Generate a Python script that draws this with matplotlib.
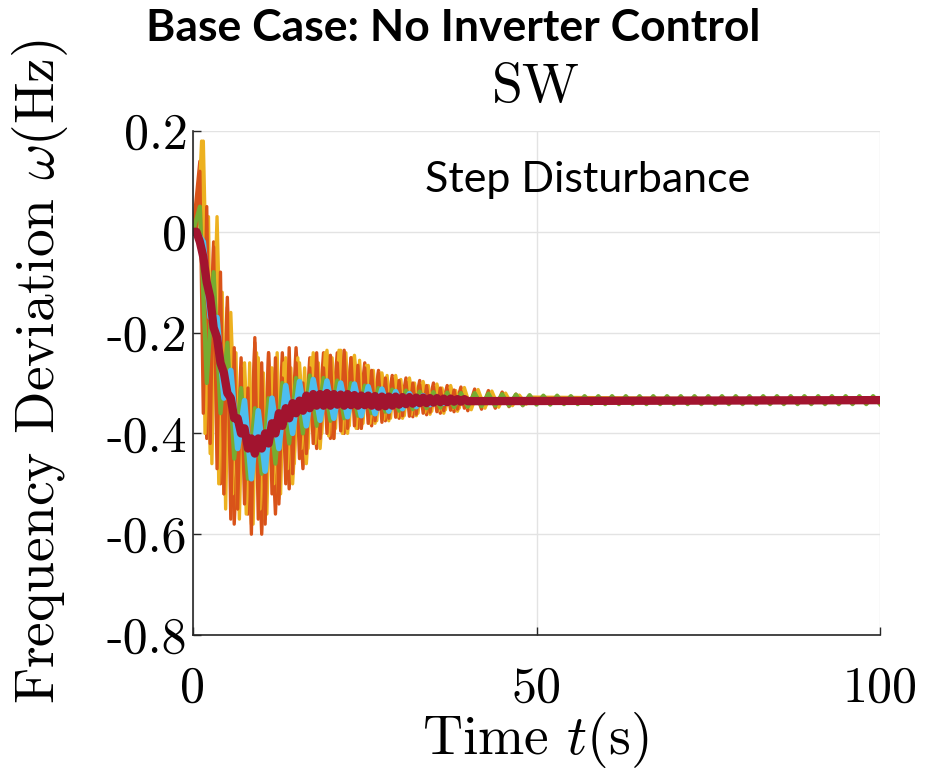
import numpy as np
import matplotlib
matplotlib.use('Agg')
import matplotlib.pyplot as plt

plt.rcParams['mathtext.fontset'] = 'cm'
plt.rcParams['axes.unicode_minus'] = False

# 数据：各节点频率偏差 (Hz)，读自原图
# 橙色 A：t = 0, 0.5, ..., 40 s
orange_a = [0.0, 0.0, 0.12, -0.36, 0.05, -0.42, -0.03, -0.47, -0.08, -0.52,
            -0.15, -0.57, -0.23, -0.55, -0.27, -0.54, -0.31, -0.60, -0.21, -0.57,
            -0.26, -0.58, -0.24, -0.52, -0.25, -0.54, -0.29, -0.50, -0.23, -0.48,
            -0.26, -0.45, -0.30, -0.44, -0.27, -0.42, -0.24, -0.41, -0.27, -0.40,
            -0.245, -0.41, -0.26, -0.395, -0.235, -0.39, -0.25, -0.385, -0.265, -0.39,
            -0.27, -0.38, -0.275, -0.375, -0.28, -0.378, -0.29, -0.37, -0.29, -0.368,
            -0.295, -0.365, -0.297, -0.366, -0.30, -0.362, -0.303, -0.36, -0.305, -0.358,
            -0.307, -0.357, -0.31, -0.355, -0.312, -0.354, -0.314, -0.352, -0.316, -0.35,
            -0.334]
# 黄色 A：t = 0, 0.75, 1.25, ..., 39.75 s
yellow_a = [0.0, 0.02, 0.18, -0.40, 0.03, -0.46, -0.05, -0.50, -0.12, -0.55,
            -0.18, -0.52, -0.24, -0.57, -0.29, -0.56, -0.26, -0.58, -0.24, -0.55,
            -0.28, -0.56, -0.27, -0.50, -0.24, -0.52, -0.26, -0.47, -0.27, -0.46,
            -0.25, -0.43, -0.27, -0.43, -0.25, -0.42, -0.26, -0.40, -0.24, -0.405,
            -0.25, -0.39, -0.235, -0.40, -0.24, -0.385, -0.25, -0.39, -0.255, -0.38,
            -0.265, -0.38, -0.275, -0.375, -0.28, -0.372, -0.285, -0.37, -0.29, -0.367,
            -0.293, -0.365, -0.296, -0.363, -0.30, -0.36, -0.302, -0.358, -0.305, -0.356,
            -0.308, -0.355, -0.31, -0.353, -0.313, -0.351, -0.315, -0.35, -0.317, -0.348]
# 橙色 B：t = 0, 1, ..., 50 s
orange_b = [0.00, 0.14, -0.41, -0.02, -0.50, -0.13, -0.58, -0.25, -0.56, -0.22,
            -0.60, -0.24, -0.56, -0.24, -0.51, -0.23, -0.47, -0.25, -0.43, -0.24,
            -0.41, -0.24, -0.40, -0.25, -0.39, -0.26, -0.385, -0.275, -0.375, -0.285,
            -0.37, -0.29, -0.367, -0.295, -0.363, -0.30, -0.36, -0.305, -0.357, -0.308,
            -0.355, -0.312, -0.352, -0.315, -0.35, -0.318, -0.347, -0.322, -0.345, -0.325,
            -0.34]
# 黄色 B：t = 0, 0.5, 1.5, ..., 49.5 s
yellow_b = [0.00, 0.00, 0.18, -0.44, 0.03, -0.52, -0.16, -0.55, -0.26, -0.58,
            -0.25, -0.57, -0.27, -0.53, -0.25, -0.50, -0.26, -0.46, -0.24, -0.43,
            -0.235, -0.41, -0.235, -0.40, -0.245, -0.39, -0.265, -0.38, -0.28, -0.375,
            -0.285, -0.37, -0.29, -0.365, -0.297, -0.362, -0.302, -0.36, -0.305, -0.356,
            -0.309, -0.353, -0.313, -0.35, -0.316, -0.348, -0.32, -0.345, -0.324, -0.342,
            -0.328]
# 绿色：t = 0, 1, ..., 100 s
green = [0.00, 0.05, -0.30, -0.08, -0.36, -0.22, -0.45, -0.31, -0.49, -0.35,
         -0.48, -0.33, -0.46, -0.30, -0.42, -0.29, -0.40, -0.285, -0.385, -0.29,
         -0.375, -0.295, -0.37, -0.30, -0.365, -0.305, -0.36, -0.31, -0.357, -0.313,
         -0.355, -0.315, -0.352, -0.317, -0.35, -0.318, -0.349, -0.319, -0.348, -0.32,
         -0.347, -0.32, -0.346, -0.321, -0.345, -0.322, -0.345, -0.323, -0.344, -0.324,
         -0.343, -0.325, -0.343, -0.325, -0.342, -0.326, -0.342, -0.326, -0.342, -0.326,
         -0.342, -0.326, -0.342, -0.326, -0.342, -0.326, -0.342, -0.326, -0.342, -0.326,
         -0.342, -0.326, -0.342, -0.326, -0.342, -0.326, -0.342, -0.326, -0.342, -0.326,
         -0.342, -0.326, -0.342, -0.326, -0.342, -0.326, -0.342, -0.326, -0.342, -0.326,
         -0.342, -0.326, -0.342, -0.326, -0.342, -0.326, -0.342, -0.326, -0.342, -0.326,
         -0.342]
# 浅蓝：t = 0, 0.5, 1.5, ..., 39.5 s
blue = [0.0, 0.0, -0.02, -0.17, -0.17, -0.33, -0.275, -0.43, -0.335, -0.49,
        -0.355, -0.475, -0.33, -0.43, -0.305, -0.40, -0.297, -0.385, -0.293, -0.374,
        -0.296, -0.37, -0.30, -0.367, -0.302, -0.365, -0.307, -0.361, -0.312, -0.356,
        -0.317, -0.351, -0.321, -0.347, -0.325, -0.343, -0.328, -0.34, -0.331, -0.337,
        -0.334]
# 暗红：t = 0, 0.5, ..., 40 s
darkred = [0.0, 0.0, -0.02, -0.05, -0.10, -0.13, -0.19, -0.21, -0.26, -0.28,
           -0.32, -0.33, -0.37, -0.37, -0.40, -0.39, -0.43, -0.41, -0.44, -0.41,
           -0.43, -0.40, -0.42, -0.38, -0.40, -0.36, -0.385, -0.35, -0.37, -0.34,
           -0.36, -0.335, -0.355, -0.325, -0.35, -0.322, -0.345, -0.322, -0.345, -0.32,
           -0.345, -0.322, -0.343, -0.323, -0.345, -0.322, -0.344, -0.324, -0.345, -0.325,
           -0.344, -0.325, -0.345, -0.326, -0.347, -0.327, -0.346, -0.327, -0.345, -0.327,
           -0.343, -0.328, -0.342, -0.328, -0.341, -0.329, -0.34, -0.329, -0.34, -0.33,
           -0.339, -0.33, -0.338, -0.331, -0.338, -0.331, -0.337, -0.332, -0.337, -0.332,
           -0.336]
steady = -0.334

t_orange_a = 0.5 * np.arange(len(orange_a))
t_yellow_a = np.concatenate([[0.0], 0.75 + 0.5 * np.arange(len(yellow_a) - 1)])
t_orange_b = np.arange(len(orange_b), dtype=float)
t_yellow_b = np.concatenate([[0.0], 0.5 + np.arange(len(yellow_b) - 1)])
t_green = np.arange(len(green), dtype=float)
t_blue = np.concatenate([[0.0], 0.5 + np.arange(len(blue) - 1)])
t_red = 0.5 * np.arange(len(darkred))

yticks = [-0.8, -0.6, -0.4, -0.2, 0, 0.2]
ytick_labels = ['-0.8', '-0.6', '-0.4', '-0.2', '0', '0.2']
xticks = [0, 50, 100]

C_ORANGE = '#D95319'
C_YELLOW = '#EDB120'

fig = plt.figure(figsize=(9.25, 7.75), dpi=100)
ax = fig.add_axes([193 / 925, 1 - 635 / 775, 687 / 925, 504 / 775])

ax.plot(np.append(t_orange_b, 100), orange_b + [steady], color=C_ORANGE, lw=2.4)
ax.plot(np.append(t_yellow_b, 100), yellow_b + [steady], color=C_YELLOW, lw=2.4)
ax.plot(np.append(t_yellow_a, [40.5, 100]), yellow_a + [steady, steady], color=C_YELLOW, lw=2.4)
ax.plot(np.append(t_orange_a, 100), orange_a + [steady], color=C_ORANGE, lw=2.4)
ax.plot(t_green, green, color='#77AC30', lw=3.0)
ax.plot(np.append(t_blue, 100), blue + [steady], color='#4DBEEE', lw=4.0)
ax.plot(np.append(t_red, 100), darkred + [steady], color='#A2142F', lw=6.0)

ax.set_xlim(0, 100)
ax.set_ylim(-0.8, 0.2)
ax.set_xticks(xticks)
ax.set_xticklabels([str(v) for v in xticks], fontfamily='cmr10', fontsize=36)
ax.set_yticks(yticks)
ax.set_yticklabels(ytick_labels, fontfamily='cmr10', fontsize=36)
ax.tick_params(direction='in', length=6, width=1, color='#262626')
ax.tick_params(axis='x', pad=22)
ax.tick_params(axis='y', pad=4)
ax.grid(True, color='#e3e3e3', lw=1)
ax.set_axisbelow(True)
for s in ['top', 'right']:
    ax.spines[s].set_visible(False)
for s in ['left', 'bottom']:
    ax.spines[s].set_color('#262626')
    ax.spines[s].set_linewidth(1.2)

ax.text(57.5, 0.103, 'Step Disturbance', fontfamily='Lato', fontsize=31,
        ha='center', va='center')

fig.text(453 / 925, 1 - 28 / 775, 'Base Case: No Inverter Control',
         fontfamily='Lato', fontweight='bold', fontsize=32, ha='center', va='center')
fig.text(536 / 925, 1 - 88 / 775, 'SW', fontfamily='cmr10', fontsize=40,
         ha='center', va='center')
fig.text(535 / 925, 1 - 740 / 775, r'Time $t$(s)', fontfamily='cmr10', fontsize=40,
         ha='center', va='center')
fig.text(40 / 925, 1 - 372 / 775, r'Frequency Deviation $\omega$(Hz)', fontfamily='cmr10',
         fontsize=40, rotation=90, ha='center', va='center')

fig.savefig('out.png', dpi=100)
